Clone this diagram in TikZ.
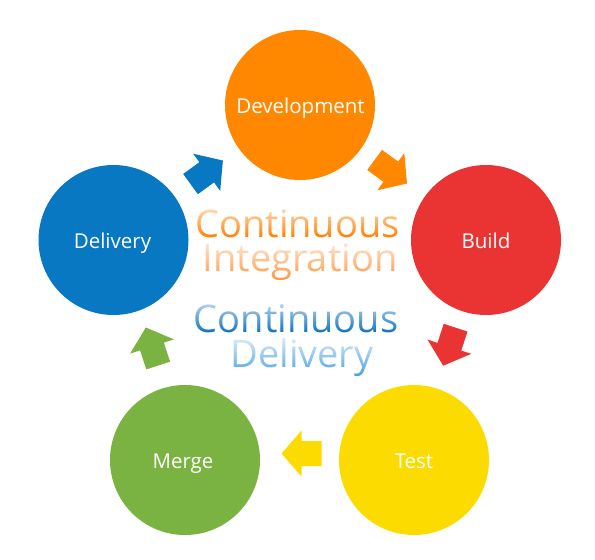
\documentclass[tikz,border=0pt]{standalone}
\usepackage{fontspec}
\setmainfont{Open Sans}
\usetikzlibrary{calc}
\definecolor{cdev}{RGB}{255,136,0}
\definecolor{cbuild}{RGB}{233,52,51}
\definecolor{ctest}{RGB}{252,219,0}
\definecolor{cmerge}{RGB}{122,179,66}
\definecolor{cdel}{RGB}{8,120,195}
\definecolor{oBotA}{RGB}{255,128,0}
\definecolor{oBotB}{RGB}{255,150,60}
\definecolor{bBotA}{RGB}{10,112,192}
\definecolor{bBotB}{RGB}{70,160,228}
% white veil in thin bands: x0, x1, ytop, ybottom, opacity at top, opacity at bottom
\newcommand{\whiteveil}[6]{%
  \foreach \i in {0,...,23} {%
    \pgfmathsetmacro\ya{#3+\i*(#4-#3)/24}%
    \pgfmathsetmacro\yb{#3+(\i+1)*(#4-#3)/24}%
    \pgfmathsetmacro\op{#5+(#6-#5)*(\i+0.5)/24}%
    \fill[white, fill opacity=\op] (#1,\ya) rectangle (#2,\yb);
  }}
\begin{document}
\begin{tikzpicture}[x=1pt,y=-1pt,
  stage/.style={circle, fill=#1, minimum size=150pt, inner sep=0pt},
  lbl/.style={text=white, font=\fontsize{20.5}{24}\selectfont, inner sep=0pt, anchor=base},
  ctext/.style={font=\fontsize{38}{38}\selectfont, inner sep=0pt, anchor=base, text height=27pt},
  blockarrow/.pic={\fill[#1] (-20,-12.5) -- (0,-12.5) -- (0,-23) -- (20,0) -- (0,23) -- (0,12.5) -- (-20,12.5) -- cycle;}
]
\useasboundingbox (0,0) rectangle (595,560);
% stages
\node[stage=cdev]   (dev)   at (300,105) {};
\node[stage=cbuild] (build) at (486,240) {};
\node[stage=ctest]  (test)  at (414,460) {};
\node[stage=cmerge] (merge) at (185,460) {};
\node[stage=cdel]   (deliv) at (113.5,240) {};
\node[lbl] (devl)   at ($(dev.center)+(0.5,8)$)   {Development};
\node[lbl] (buildl) at ($(build.center)+(0,8)$)   {Build};
\node[lbl] (testl)  at ($(test.center)+(0,8)$)    {Test};
\node[lbl] (mergel) at ($(merge.center)+(-2,8)$)  {Merge};
\node[lbl] (delivl) at ($(deliv.center)+(-1,8)$)  {Delivery};
% arrows
\pic[rotate=36]   at (206.7,172.3) {blockarrow=cdel};
\pic[rotate=-36]  at (390.8,171.7) {blockarrow=cdev};
\pic[rotate=-108] at (449.4,346.7) {blockarrow=cbuild};
\pic[rotate=180]  at (301.5,453.5) {blockarrow=ctest};
\pic[rotate=108]  at (152,346.5)   {blockarrow=cmerge};
% centre texts, lightened towards the top
\node[ctext, text=oBotA, text depth=0pt] (ci) at (297.5,237) {Continuous};
\node[ctext, text=oBotB, text depth=9pt] (in) at (300,271)   {Integration};
\node[ctext, text=bBotA, text depth=0pt] (cd) at (296,332)   {Continuous};
\node[ctext, text=bBotB, text depth=9pt] (dl) at (302,367)   {Delivery};
\whiteveil{190}{406}{207}{238}{0.75}{0}
\whiteveil{195}{405}{240}{281}{0.82}{0}
\whiteveil{190}{406}{303}{334}{0.72}{0}
\whiteveil{220}{385}{337}{377}{0.82}{0}
\end{tikzpicture}
\end{document}
